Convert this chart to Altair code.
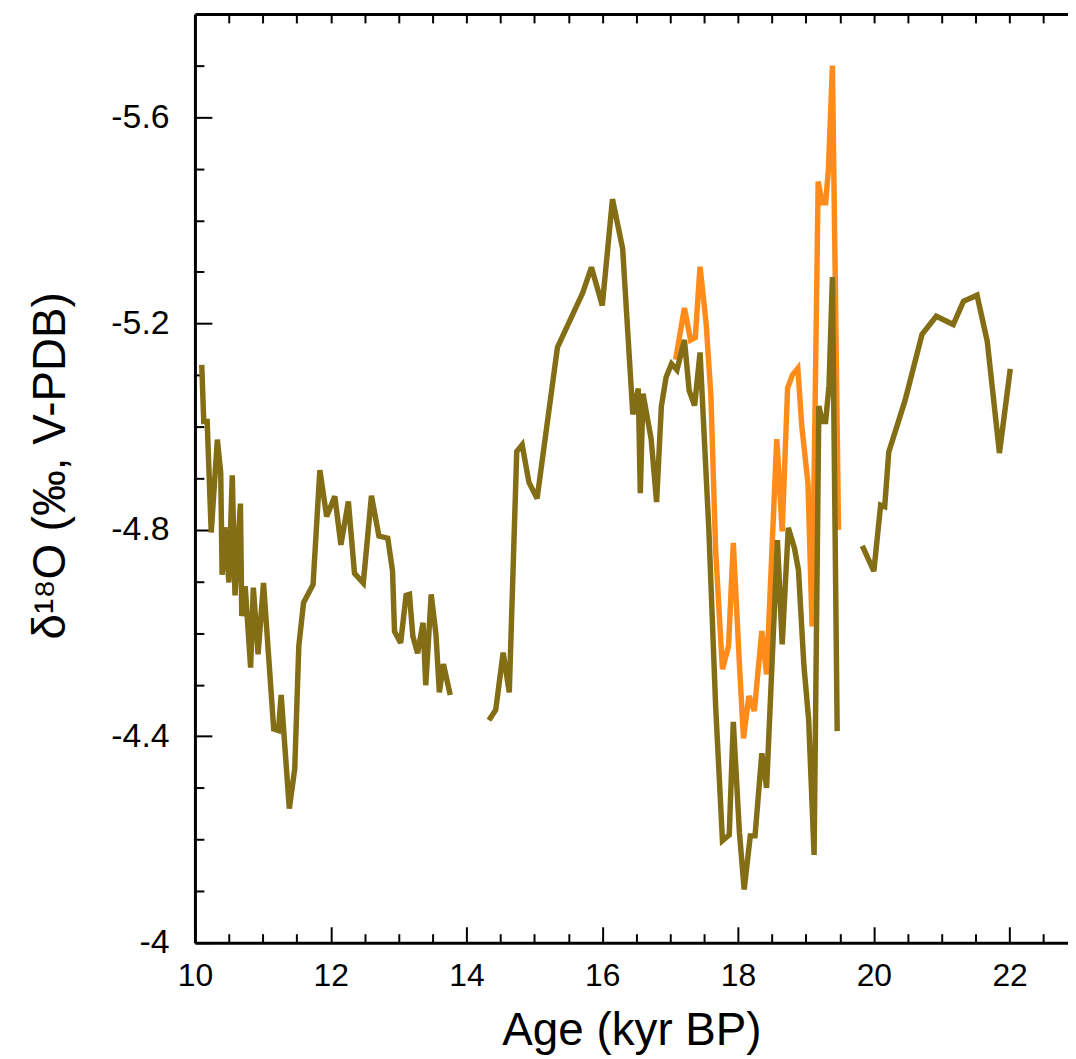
import altair as alt
import pandas as pd

# ---------------- data ----------------
orange_age = [17.08, 17.21, 17.30, 17.37, 17.44, 17.53, 17.60, 17.67, 17.77, 17.86,
              17.93, 18.02, 18.08, 18.16, 18.24, 18.35, 18.42, 18.57, 18.65, 18.73,
              18.80, 18.88, 18.94, 19.03, 19.09, 19.18, 19.24, 19.29, 19.33, 19.39, 19.48]
orange_d18o = [-5.13, -5.23, -5.168, -5.173, -5.31, -5.20, -5.06, -4.76, -4.53, -4.575,
               -4.775, -4.54, -4.396, -4.478, -4.449, -4.604, -4.52, -4.976, -4.797, -5.075,
               -5.10, -5.113, -5.00, -4.89, -4.613, -5.475, -5.434, -5.434, -5.496, -5.70, -4.80]

olive1_age = [10.10, 10.13, 10.18, 10.24, 10.33, 10.38, 10.40, 10.44, 10.50, 10.55,
              10.59, 10.67, 10.69, 10.74, 10.82, 10.86, 10.93, 11.01, 11.16, 11.23,
              11.27, 11.39, 11.47, 11.53, 11.60, 11.74, 11.84, 11.94, 12.06, 12.15,
              12.26, 12.35, 12.48, 12.60, 12.71, 12.84, 12.91, 12.94, 13.03, 13.11,
              13.16, 13.21, 13.28, 13.36, 13.40, 13.48, 13.55, 13.60, 13.66, 13.76]
olive1_d18o = [-5.12, -5.01, -5.01, -4.795, -4.975, -4.91, -4.713, -4.805, -4.698, -4.906,
               -4.673, -4.851, -4.633, -4.691, -4.533, -4.688, -4.559, -4.697, -4.414, -4.411,
               -4.48, -4.26, -4.337, -4.575, -4.659, -4.694, -4.916, -4.826, -4.865, -4.771,
               -4.855, -4.716, -4.697, -4.866, -4.788, -4.784, -4.721, -4.603, -4.581, -4.673,
               -4.675, -4.594, -4.561, -4.62, -4.499, -4.675, -4.598, -4.485, -4.54, -4.48]

olive2_age = [14.33, 14.43, 14.54, 14.63, 14.74, 14.82, 14.92, 15.04, 15.34, 15.71,
              15.84, 16.00, 16.15, 16.30, 16.45, 16.53, 16.56, 16.60, 16.72, 16.80,
              16.87, 16.94, 17.02, 17.10, 17.21, 17.28, 17.36, 17.44, 17.57, 17.67,
              17.77, 17.87, 17.93, 18.02, 18.09, 18.18, 18.25, 18.35, 18.42, 18.58,
              18.65, 18.74, 18.83, 18.89, 18.97, 19.04, 19.12, 19.19, 19.24, 19.29,
              19.34, 19.39, 19.46]
olive2_d18o = [-4.431, -4.451, -4.562, -4.485, -4.952, -4.965, -4.892, -4.861, -5.154, -5.259,
               -5.309, -5.235, -5.441, -5.345, -5.024, -5.074, -4.871, -5.064, -4.976, -4.854,
               -5.039, -5.096, -5.122, -5.11, -5.168, -5.070, -5.041, -5.144, -4.80, -4.458,
               -4.198, -4.209, -4.428, -4.214, -4.103, -4.207, -4.207, -4.367, -4.30, -4.78,
               -4.578, -4.804, -4.765, -4.722, -4.537, -4.432, -4.17, -5.04, -5.01, -5.01,
               -5.08, -5.29, -4.41]

olive3_age = [19.83, 20.00, 20.10, 20.16, 20.22, 20.46, 20.71, 20.92, 21.17, 21.32,
              21.52, 21.67, 21.85, 22.01]
olive3_d18o = [-4.769, -4.72, -4.848, -4.845, -4.951, -5.051, -5.179, -5.214, -5.198, -5.243,
               -5.255, -5.166, -4.949, -5.112]

x_major = [10, 12, 14, 16, 18, 20, 22]
x_minor = [10.5, 11, 11.5, 12.5, 13, 13.5, 14.5, 15, 15.5, 16.5, 17, 17.5,
           18.5, 19, 19.5, 20.5, 21, 21.5, 22.5]
x_top = [10.5, 11, 11.5, 12, 12.5, 13, 13.5, 14, 14.5, 15, 15.5, 16, 16.5, 17, 17.5,
         18, 18.5, 19, 19.5, 20, 20.5, 21, 21.5, 22, 22.5]
y_major = [-5.6, -5.2, -4.8, -4.4, -4.0]
y_minor = [-5.7, -5.5, -5.4, -5.3, -5.1, -5.0, -4.9, -4.7, -4.6, -4.5, -4.3, -4.2, -4.1]

# ---------------- styling ----------------
FONT = "Liberation Sans"
ORANGE = "#FF8C1A"
OLIVE = "#836E15"

orange_df = pd.DataFrame({"age": orange_age, "d18o": orange_d18o})
olive_df = pd.concat([
    pd.DataFrame({"age": olive1_age, "d18o": olive1_d18o, "seg": 1}),
    pd.DataFrame({"age": olive2_age, "d18o": olive2_d18o, "seg": 2}),
    pd.DataFrame({"age": olive3_age, "d18o": olive3_d18o, "seg": 3}),
], ignore_index=True)

x_scale = alt.Scale(domain=[10, 22.86], nice=False, zero=False)
y_scale = alt.Scale(domain=[-5.8, -4.0], reverse=True, nice=False, zero=False)

common = dict(grid=False, tickColor="black", tickWidth=2, domainColor="black",
              labelColor="black", labelFont=FONT, titleFont=FONT, titleColor="black",
              titleFontWeight="normal", labelFlush=False, labelOverlap=False)

x_axis_major = alt.Axis(orient="bottom", values=x_major, tickSize=alt.ExprRef(expr="-16"),
                        domainWidth=3, labelFontSize=32, labelPadding=34,
                        title="Age (kyr BP)", titleFontSize=46,
                        titleBaseline="alphabetic", titleY=102, **common)
y_axis_major = alt.Axis(orient="left", values=y_major, tickSize=alt.ExprRef(expr="-17"),
                        domainWidth=3, labelFontSize=34, labelPadding=43,
                        labelExpr="replace(format(datum.value, '~g'), '\u2212', '-')",
                        title="\u03b4\u00b9\u2078O (\u2030, V-PDB)", titleFontSize=46,
                        titleAngle=270, titleBaseline="alphabetic", titleAlign="center",
                        titleX=-131, titleY=454, **common)

x_axis_minor = alt.Axis(orient="bottom", values=x_minor, tickSize=alt.ExprRef(expr="-9"),
                        labels=False, domain=False, title="", **common)
y_axis_minor = alt.Axis(orient="left", values=y_minor, tickSize=alt.ExprRef(expr="-9"),
                        labels=False, domain=False, title="", **common)
x_axis_top = alt.Axis(orient="top", values=x_top, tickSize=alt.ExprRef(expr="-9"),
                      labels=False, domain=True, domainWidth=3, title="", **common)

line_style = dict(strokeWidth=5.5, strokeJoin="miter", strokeMiterLimit=3)

orange = alt.Chart(orange_df).mark_line(color=ORANGE, **line_style).encode(
    x=alt.X("age:Q", scale=x_scale, axis=x_axis_major),
    y=alt.Y("d18o:Q", scale=y_scale, axis=y_axis_major),
)

olive = alt.Chart(olive_df).mark_line(color=OLIVE, **line_style).encode(
    x=alt.X("age:Q", scale=x_scale, axis=x_axis_minor),
    y=alt.Y("d18o:Q", scale=y_scale, axis=y_axis_minor),
    detail="seg:N",
)

frame = alt.Chart(olive_df).mark_line(opacity=0).encode(
    x=alt.X("age:Q", scale=x_scale, axis=x_axis_top),
    y=alt.Y("d18o:Q", scale=y_scale, axis=None),
    detail="seg:N",
)

chart = alt.layer(orange, olive, frame).resolve_scale(
    x="shared", y="shared"
).resolve_axis(
    x="independent", y="independent"
).properties(
    width=878, height=934,
    padding={"left": 188, "top": 3, "right": 0, "bottom": 113},
    autosize=alt.AutoSizeParams(type="none"),
    background="white",
).configure_view(strokeWidth=0)

chart.save("out.html", embed_options={"renderer": "svg", "actions": False})
